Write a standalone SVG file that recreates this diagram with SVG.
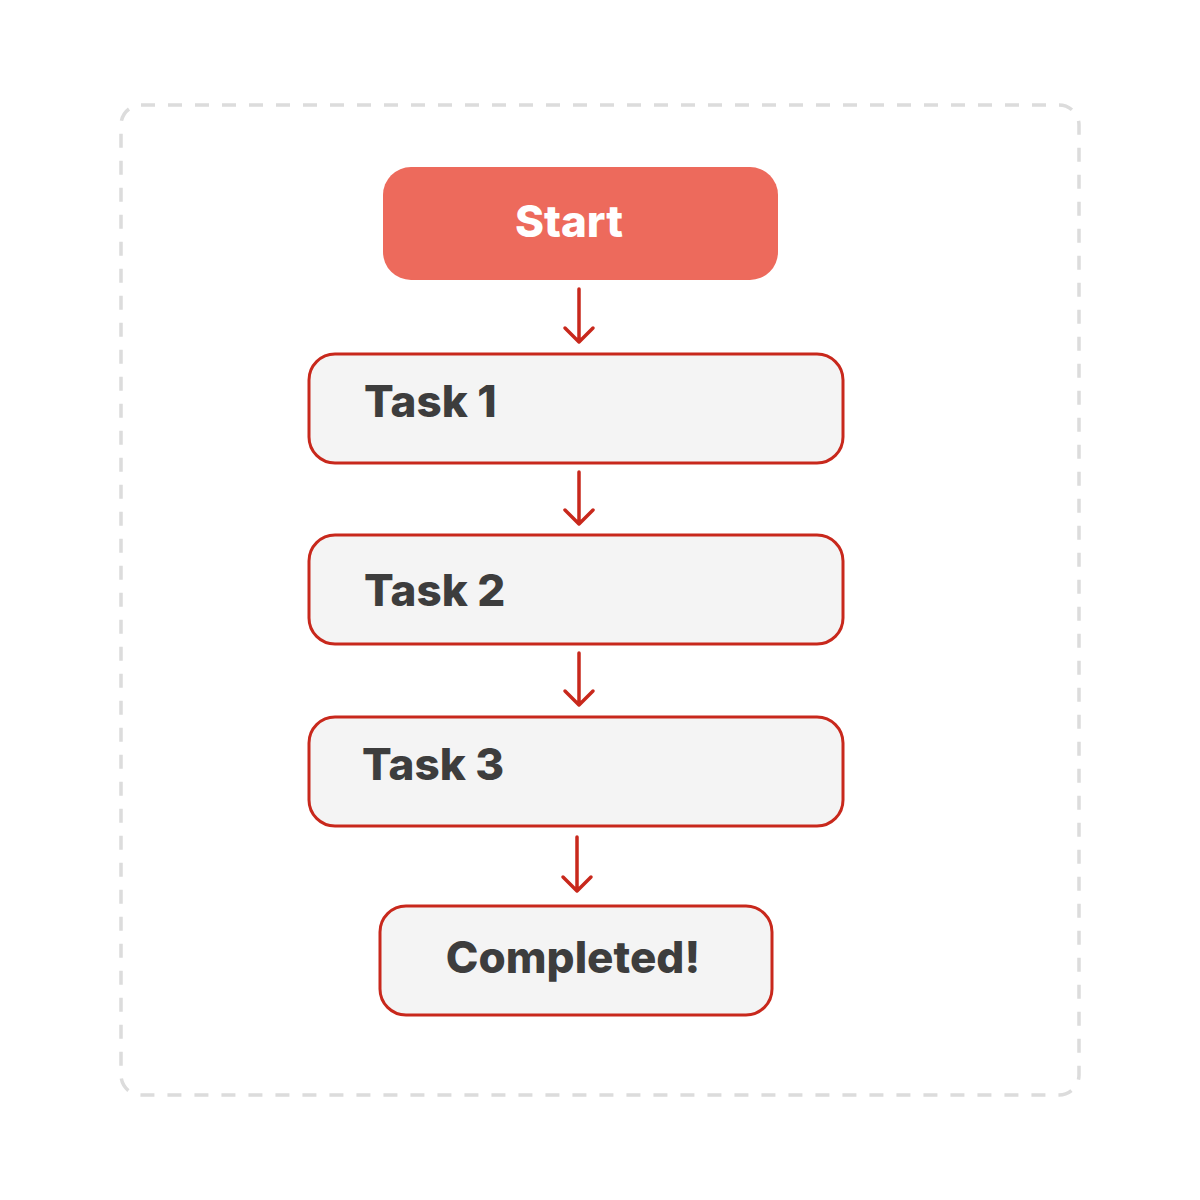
<svg xmlns="http://www.w3.org/2000/svg" width="1200" height="1200" viewBox="0 0 1200 1200">
<style>
.frame{fill:none;stroke:#dcdcdc;stroke-width:3.5;stroke-dasharray:14 13}
.task{fill:#f4f4f4;stroke:#c8281c;stroke-width:3}
.start{fill:#ed6a5c}
.lbl{font-family:Inter,"Liberation Sans",sans-serif;font-weight:800;font-size:44px;fill:#3d3d3d}
.wl{fill:#ffffff}
.conn{stroke:#c8281c;stroke-width:3.5;fill:none;stroke-linecap:round;stroke-linejoin:round}
</style>
<rect width="1200" height="1200" fill="#ffffff"/>
<rect class="frame" x="121" y="105" width="958" height="990" rx="20"/>
<g id="start">
<rect class="start" x="383" y="167" width="395" height="113" rx="28"/>
<text class="lbl wl" x="569" y="237" text-anchor="middle">Start</text>
</g>
<g id="task1">
<rect class="task" x="309" y="354" width="534" height="109" rx="26"/>
<text class="lbl" x="364" y="417">Task 1</text>
</g>
<g id="task2">
<rect class="task" x="309" y="535" width="534" height="109" rx="26"/>
<text class="lbl" x="364" y="606">Task 2</text>
</g>
<g id="task3">
<rect class="task" x="309" y="717" width="534" height="109" rx="26"/>
<text class="lbl" x="362" y="780">Task 3</text>
</g>
<g id="completed">
<rect class="task" x="380" y="906" width="392" height="109" rx="26"/>
<text class="lbl" x="573" y="973" text-anchor="middle">Completed!</text>
</g>
<g id="connectors">
<path class="conn" d="M579 289V342M565 328L579 342L593 328"/>
<path class="conn" d="M579 472V524M565 510L579 524L593 510"/>
<path class="conn" d="M579 653V705M565 691L579 705L593 691"/>
<path class="conn" d="M577 837V891M563 877L577 891L591 877"/>
</g>
</svg>
